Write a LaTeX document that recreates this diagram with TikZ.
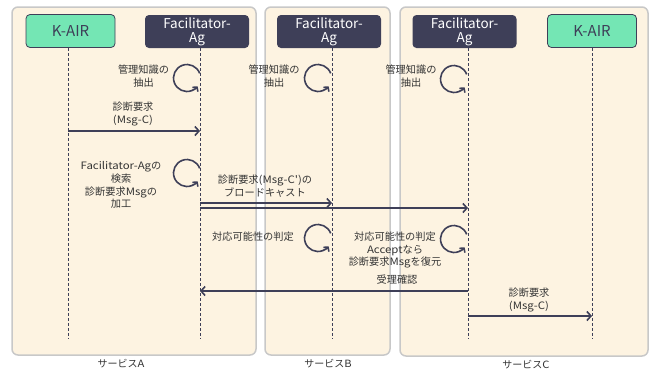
\documentclass[tikz,border=0pt]{standalone}
\usepackage{fontspec}
\setmainfont{Noto Sans CJK JP}
\newfontfamily\latw[FakeStretch=1.12]{Noto Sans CJK JP}
\usetikzlibrary{arrows.meta}
\definecolor{dark}{HTML}{3E3F58}
\definecolor{kgreen}{HTML}{74E6B4}
\definecolor{panel}{HTML}{FDF3E1}
\definecolor{pborder}{HTML}{C8C8C8}
\definecolor{txt}{HTML}{333333}
\begin{document}
\begin{tikzpicture}[x=1pt,y=-1pt,
  panelbox/.style={draw=pborder, line width=1.5pt, fill=panel, rounded corners=6pt},
  kair/.style={draw=dark, line width=0.8pt, fill=kgreen, rounded corners=4pt, minimum width=89pt, minimum height=33pt, inner sep=0pt, font=\fontsize{15}{16}\selectfont, text=dark},
  fac/.style={fill=dark, rounded corners=4pt, minimum width=104pt, minimum height=33pt, inner sep=0pt, text=white, font=\fontsize{13.5}{14}\selectfont, align=center},
  life/.style={draw=dark, line width=0.8pt, dash pattern=on 3pt off 2pt},
  msg/.style={draw=dark, line width=1.6pt, -{Straight Barb[length=4pt,width=9pt]}},
  selfloop/.style={draw=dark, line width=1.6pt, -{Straight Barb[length=3pt,width=7pt]}},
  lbl/.style={font=\fontsize{10.2}{12.8}\selectfont, text=txt, align=center, inner sep=0pt},
  paneltitle/.style={font=\fontsize{10}{12}\selectfont, text=txt, inner sep=0pt},
]
\useasboundingbox (0,0) rectangle (653,373);
% panels
\draw[panelbox] (12,7) rectangle (256,355);
\draw[panelbox] (265,7) rectangle (390,355);
\draw[panelbox] (400,7) rectangle (648,356);
\node[paneltitle] (capA) at (121,364) {サービス{\latw A}};
\node[paneltitle] (capB) at (328,364) {サービス{\latw B}};
\node[paneltitle] (capC) at (526,365) {サービス{\latw C}};
% heads
\node[kair] (kaA) at (70.5,31) {K-AIR};
\node[fac] (faA) at (197,31.5) {Facilitator-\\Ag};
\node[fac] (faB) at (329,31.5) {Facilitator-\\Ag};
\node[fac] (faC) at (464.5,31.5) {Facilitator-\\Ag};
\node[kair] (kaC) at (592,31) {K-AIR};
% lifeline ends
\coordinate (eKA) at (68,339);
\coordinate (eFA) at (200,339);
\coordinate (eFB) at (332,339);
\coordinate (eFC) at (468,339);
\coordinate (eKC) at (592,339);
\draw[life] (eKA |- kaA.south) -- (eKA);
\draw[life] (eFA |- faA.south) -- (eFA);
\draw[life] (eFB |- faB.south) -- (eFB);
\draw[life] (eFC |- faC.south) -- (eFC);
\draw[life] (eKC |- kaC.south) -- (eKC);
% self loops
\foreach \cx/\cy in {187/78, 318/78, 454/79, 187/173, 318/238, 454/239}{
  \draw[selfloop] (\cx,\cy) ++(-20:13.5) arc[start angle=-20, end angle=-322, radius=13.5];
}
% texts
\node[lbl] (t1) at (143.5,76) {管理知識の\\抽出};
\node[lbl] (t2) at (274,76) {管理知識の\\抽出};
\node[lbl] (t3) at (411,76) {管理知識の\\抽出};
\node[lbl] (t4) at (133,114) {診断要求\\{\latw (Msg-C)}};
\node[lbl] (t5) at (121,185) {{\latw Facilitator-Ag}の\\検索\\診断要求{\latw Msg}の\\加工};
\node[lbl] (t6) at (265,186) {診断要求{\latw (Msg-C')}の\\ブロードキャスト};
\node[lbl] (t7) at (253,237) {対応可能性の判定};
\node[lbl] (t8) at (395,250) {対応可能性の判定\\{\latw Accept}なら\\診断要求{\latw Msg}を復元};
\node[lbl] (t9) at (397,280) {受理確認};
\node[lbl] (t10) at (529,300) {診断要求\\{\latw (Msg-C)}};
% messages
\draw[msg] (eKA |- 0,131) -- (eFA |- 0,131);
\draw[msg] (eFA |- 0,203) -- (eFB |- 0,203);
\draw[msg] (eFA |- 0,208) -- (eFC |- 0,208);
\draw[msg] (eFC |- 0,291) -- (eFA |- 0,291);
\draw[msg] (eFC |- 0,316) -- (eKC |- 0,316);
\end{tikzpicture}
\end{document}
